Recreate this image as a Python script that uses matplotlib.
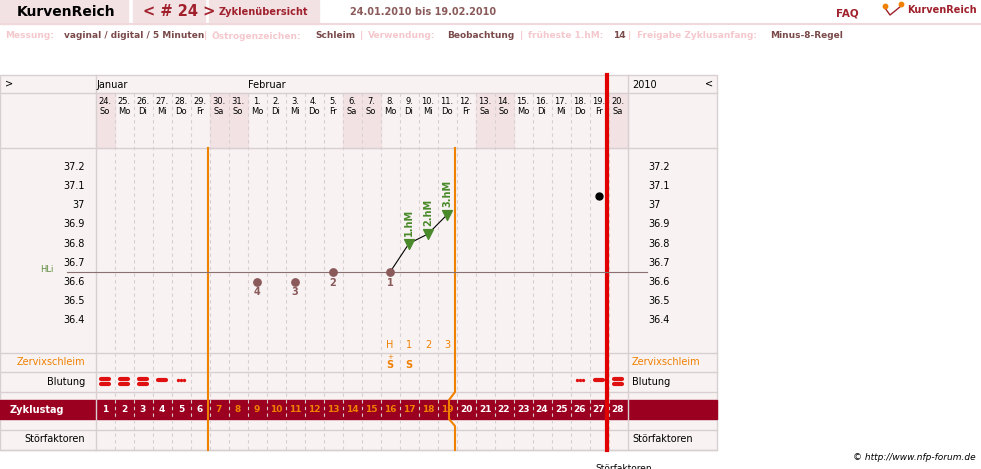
import matplotlib.pyplot as plt
from matplotlib.patches import Rectangle

dates = ["24.", "25.", "26.", "27.", "28.", "29.", "30.", "31.", "1.", "2.", "3.", "4.", "5.", "6.",
         "7.", "8.", "9.", "10.", "11.", "12.", "13.", "14.", "15.", "16.", "17.", "18.", "19.", "20."]
weekdays = ["So", "Mo", "Di", "Mi", "Do", "Fr", "Sa", "So", "Mo", "Di", "Mi", "Do", "Fr", "Sa",
            "So", "Mo", "Di", "Mi", "Do", "Fr", "Sa", "So", "Mo", "Di", "Mi", "Do", "Fr", "Sa"]
temp_ticks = [37.2, 37.1, 37.0, 36.9, 36.8, 36.7, 36.6, 36.5, 36.4]
low_days = [8, 10, 12, 15]
low_temps = [36.6, 36.6, 36.65, 36.65]
low_labels = ["4", "3", "2", "1"]
high_days = [16, 17, 18]
high_temps = [36.8, 36.85, 36.95]
high_labels = ["1.hM", "2.hM", "3.hM"]
extra_day, extra_temp = 26, 37.05
hli = 36.65
bleeding = {0: "==", 1: "==", 2: "==", 3: "-", 4: "...", 25: "...", 26: "-", 27: "=="}

W, H = 981, 469
fig = plt.figure(figsize=(9.81, 4.69), dpi=100)
px = fig.add_axes([0, 0, 1, 1])
px.set_xlim(0, W)
px.set_ylim(H, 0)
px.axis("off")

X0, CW = 95.5, 19
def cx(i):
    return X0 + CW * i + CW / 2

dark = "#9b0020"
pink = "#f2e2e4"
bg = "#f8f2f2"
grid = "#d8d0d0"
orange = "#f08000"

# top bar
px.add_patch(Rectangle((0, 0), 128, 24, color=pink))
px.add_patch(Rectangle((133, 0), 72, 24, color=pink))
px.add_patch(Rectangle((209, 0), 110, 24, color=pink))
px.plot([0, W], [24.5, 24.5], color="#f0d8dc", lw=1.5)
px.text(17, 12, "KurvenReich", fontsize=10, weight="bold", va="center")
px.text(143, 12, "< # 24 >", fontsize=10.5, weight="bold", va="center", color="#a0202c")
px.text(219, 12, "Zyklenübersicht", fontsize=7, weight="bold", va="center", color="#a0202c")
px.text(350, 12, "24.01.2010 bis 19.02.2010", fontsize=7, weight="bold", va="center", color="#8a5a5a")
px.text(836, 14, "FAQ", fontsize=7.5, weight="bold", va="center", color="#a0202c")
px.text(907, 10, "KurvenReich", fontsize=7, weight="bold", va="center", color="#a0202c")
px.plot([885, 890, 895, 901], [8, 15, 11, 6], color="#a0202c", lw=1)
px.scatter([885, 901], [6, 4], s=10, color=orange, zorder=3)
info = [("Messung:", 5, "#f4c8cc"), ("vaginal / digital / 5 Minuten", 64, "#7a4a4a"), ("|", 204, "#f4c8cc"),
        ("Östrogenzeichen:", 212, "#f4c8cc"), ("Schleim", 315, "#7a4a4a"), ("|", 360, "#f4c8cc"),
        ("Verwendung:", 368, "#f4c8cc"), ("Beobachtung", 447, "#7a4a4a"), ("|", 520, "#f4c8cc"),
        ("früheste 1.hM:", 528, "#f4c8cc"), ("14", 613, "#7a4a4a"), ("|", 628, "#f4c8cc"),
        ("Freigabe Zyklusanfang:", 637, "#f4c8cc"), ("Minus-8-Regel", 770, "#7a4a4a")]
for t, x, c in info:
    px.text(x, 36, t, fontsize=6.5, weight="bold", color=c, va="center")

# chart frame
px.add_patch(Rectangle((0, 75), 717, 375, facecolor=bg, edgecolor="#d8d0d0", lw=1))
for i, wd in enumerate(weekdays):
    if wd in ("Sa", "So"):
        px.add_patch(Rectangle((X0 + CW * i, 93), CW, 55, color=pink))
for y in [93, 148, 353, 372, 392, 430, 450]:
    px.plot([0, 717], [y, y], color=grid, lw=1)
for x in [95.5, 627.5]:
    px.plot([x, x], [75, 450], color=grid, lw=1)
for i in range(1, 28):
    x = X0 + CW * i
    px.plot([x, x], [93, 450], color=grid, lw=0.8, ls=(0, (3, 3)))
px.text(5, 84, ">", fontsize=7, va="center")
px.text(705, 84, "<", fontsize=7, va="center")
px.text(96, 85, "Januar", fontsize=7, va="center")
px.text(248, 85, "Februar", fontsize=7, va="center")
px.text(632, 85, "2010", fontsize=7, va="center")
for i in range(28):
    px.text(cx(i), 102, dates[i], fontsize=6, ha="center", va="center")
    px.text(cx(i), 111, weekdays[i], fontsize=6, ha="center", va="center")

# Zyklustag band
px.add_patch(Rectangle((0, 400), 717, 19, color=dark))
px.text(10, 410, "Zyklustag", fontsize=7, weight="bold", color="white", va="center")
for i in range(28):
    c = orange if 6 <= i <= 18 else "white"
    px.text(cx(i), 410, str(i + 1), fontsize=6.5, weight="bold", color=c, ha="center", va="center")

# row labels
px.text(85, 362, "Zervixschleim", fontsize=7, color=orange, ha="right", va="center")
px.text(632, 362, "Zervixschleim", fontsize=7, color=orange, va="center")
px.text(85, 382, "Blutung", fontsize=7, ha="right", va="center")
px.text(632, 382, "Blutung", fontsize=7, va="center")
px.text(85, 439, "Störfaktoren", fontsize=7, ha="right", va="center")
px.text(632, 439, "Störfaktoren", fontsize=7, va="center")
px.text(976, 457, "© http://www.nfp-forum.de", fontsize=6.5, style="italic", ha="right", va="center")
px.text(595, 464, "Störfaktoren", fontsize=6.5, va="top")

for label, d in zip(["H", "1", "2", "3"], [15, 16, 17, 18]):
    px.text(cx(d), 345, label, fontsize=7, color=orange, ha="center", va="center")
px.text(cx(15), 365, "S", fontsize=7, weight="bold", color=orange, ha="center", va="center")
px.text(cx(15), 357, "+", fontsize=5, color=orange, ha="center", va="center")
px.text(cx(16), 365, "S", fontsize=7, weight="bold", color=orange, ha="center", va="center")
for d, kind in bleeding.items():
    x = cx(d)
    if kind == "==":
        px.plot([x - 4, x + 4], [379.5, 379.5], color="#e01010", lw=3, solid_capstyle="round")
        px.plot([x - 4, x + 4], [384, 384], color="#e01010", lw=3, solid_capstyle="round")
    elif kind == "-":
        px.plot([x - 4, x + 4], [380, 380], color="#e01010", lw=3, solid_capstyle="round")
    else:
        px.scatter([x - 3, x, x + 3], [380, 380, 380], s=2, color="#e01010")

# vertical markers
px.plot([208, 208], [148, 450], color=orange, lw=1.5)
px.plot([455, 455, 449, 449, 455, 455], [148, 392, 400, 419, 426, 450], color=orange, lw=1.5)
px.plot([607, 607], [75, 450], color="#e00000", lw=3)

# temperature axes
T_TOP, T_BOT = 37.2 + 19 * 0.8 / 153, 37.2 - 168 * 0.8 / 153
ax = fig.add_axes([95.5 / W, 1 - 335 / H, 532 / W, 187 / H])
ax.set_xlim(-0.5, 27.5)
ax.set_ylim(T_BOT, T_TOP)
ax.axis("off")
for t in temp_ticks:
    y = 167 + (37.2 - t) / 0.8 * 153
    lab = f"{t:g}"
    px.text(85, y, lab, fontsize=7, ha="right", va="center")
    px.text(648, y, lab, fontsize=7, va="center")
ax.plot([-2, 28.5], [hli, hli], color="#8a7070", lw=0.8, clip_on=False)
px.text(40, 270, "HLi", fontsize=6, color="#5a8a3a", va="center")
ax.plot([low_days[-1]] + high_days, [low_temps[-1]] + high_temps, color="black", lw=0.8)
ax.scatter(low_days, low_temps, s=28, color="#8a5a5a", zorder=3)
for d, t, l in zip(low_days, low_temps, low_labels):
    ax.text(d, t - 0.055, l, fontsize=7, color="#8a5a5a", ha="center", va="center", weight="bold")
ax.scatter(high_days, high_temps, marker="v", s=50, color="#4a8a2a", zorder=3)
for d, t, l in zip(high_days, high_temps, high_labels):
    ax.text(d, t + 0.04, l, fontsize=7, color="#4a8a2a", rotation=90, ha="center", va="bottom", weight="bold")
ax.scatter([extra_day], [extra_temp], s=25, color="black", zorder=3)

fig.savefig("out.png", dpi=100)
